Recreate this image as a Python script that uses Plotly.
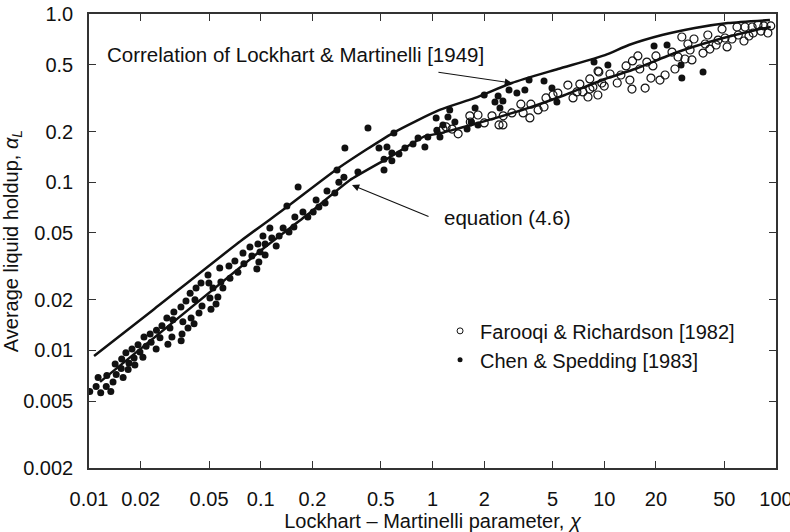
import math
import plotly.graph_objects as go

# ---------------- data ----------------
chen_x = [0.0101, 0.0110, 0.0113, 0.0117, 0.0126, 0.0127, 0.0134, 0.0138, 0.0142, 0.0144,
          0.0154, 0.0155, 0.0158, 0.0164, 0.0169, 0.0171, 0.0178, 0.0183, 0.0185, 0.0193,
          0.0198, 0.0206, 0.0209, 0.0215, 0.0227, 0.0230, 0.0246, 0.0247, 0.0259, 0.0266,
          0.0284, 0.0288, 0.0296, 0.0304, 0.0308, 0.0312, 0.0343, 0.0344, 0.0348, 0.0352,
          0.0367, 0.0377, 0.0393, 0.0388, 0.0409, 0.0414, 0.0420, 0.0437, 0.0449, 0.0455,
          0.0493, 0.0499, 0.0506, 0.0513, 0.0527, 0.0549, 0.0563, 0.0577, 0.0586, 0.0602,
          0.0653, 0.0662, 0.0707, 0.0736, 0.0788, 0.0798, 0.0865, 0.0888, 0.0949, 0.0962,
          0.0975, 0.0990, 0.103, 0.106, 0.106, 0.113, 0.116, 0.123, 0.128, 0.135,
          0.142, 0.146, 0.156, 0.158, 0.165, 0.176, 0.188, 0.202, 0.210, 0.218,
          0.237, 0.243, 0.270, 0.278, 0.285, 0.305, 0.309, 0.368, 0.421, 0.488,
          0.522, 0.522, 0.543, 0.580, 0.580, 0.596, 0.638, 0.691, 0.770, 0.824,
          0.903, 0.939, 1.05, 1.06, 1.105, 1.15, 1.23, 1.26, 1.35, 1.59,
          1.68, 1.77, 1.84, 2.00, 2.31, 2.41, 2.47, 2.57, 2.79, 3.10,
          3.45, 3.65, 4.46, 4.96, 5.30, 8.72, 10.5, 19.5, 23.2, 28.0,
          28.3, 37.6]
chen_y = [0.0057, 0.0061, 0.0069, 0.0056, 0.0061, 0.0071, 0.0057, 0.0065, 0.0083, 0.0072,
          0.0078, 0.0089, 0.0069, 0.0097, 0.0077, 0.0084, 0.0102, 0.0090, 0.0082, 0.0108,
          0.0098, 0.0091, 0.0120, 0.0106, 0.0125, 0.0112, 0.0102, 0.0132, 0.0119, 0.0140,
          0.0156, 0.0109, 0.0136, 0.0120, 0.0152, 0.0169, 0.0181, 0.0114, 0.0125, 0.0148,
          0.0197, 0.0136, 0.0156, 0.0219, 0.0144, 0.0200, 0.0235, 0.0167, 0.0252, 0.0184,
          0.0281, 0.0252, 0.0205, 0.0176, 0.0235, 0.0189, 0.0208, 0.0309, 0.0255, 0.0235,
          0.0318, 0.0269, 0.0340, 0.0292, 0.0379, 0.0327, 0.0412, 0.0364, 0.0305, 0.0429,
          0.0335, 0.0385, 0.0479, 0.0429, 0.0369, 0.0534, 0.0466, 0.0418, 0.0479, 0.0534,
          0.0722, 0.0506, 0.0542, 0.0621, 0.0936, 0.0665, 0.0621, 0.0665, 0.0784, 0.0712,
          0.0752, 0.0887, 0.0862, 0.118, 0.100, 0.107, 0.160, 0.115, 0.210, 0.160,
          0.118, 0.137, 0.162, 0.149, 0.134, 0.196, 0.147, 0.160, 0.169, 0.183,
          0.162, 0.186, 0.241, 0.204, 0.186, 0.219, 0.244, 0.269, 0.228, 0.207,
          0.228, 0.276, 0.219, 0.330, 0.300, 0.325, 0.276, 0.304, 0.353, 0.339,
          0.353, 0.405, 0.400, 0.363, 0.300, 0.518, 0.498, 0.645, 0.654, 0.498,
          0.416, 0.452]

farooqi_x = [1.15, 1.20, 1.30, 1.41, 1.65, 1.66, 1.84, 2.00, 2.22, 2.44,
             2.57, 2.58, 2.90, 3.27, 3.37, 3.69, 3.74, 4.12, 4.46, 4.58,
             5.03, 5.37, 6.14, 6.58, 6.93, 7.21, 7.51, 8.04, 8.24, 8.25,
             8.59, 9.18, 9.30, 9.68, 9.20, 10.0, 10.8, 11.9, 12.5, 13.4,
             14.1, 14.5, 14.6, 15.7, 16.1, 17.3, 17.7, 18.7, 19.2, 20.0,
             21.1, 22.6, 24.8, 25.8, 26.9, 28.3, 29.5, 30.7, 31.6, 32.4,
             33.3, 37.6, 38.7, 40.1, 41.2, 44.8, 46.0, 48.5, 50.5, 51.9,
             55.4, 59.3, 60.3, 65.1, 66.0, 69.6, 72.6, 73.6, 78.5, 81.7,
             85.0, 89.7, 93.2]
farooqi_y = [0.207, 0.213, 0.207, 0.194, 0.248, 0.228, 0.251, 0.225, 0.248, 0.219,
             0.219, 0.248, 0.258, 0.291, 0.258, 0.241, 0.291, 0.269, 0.280, 0.317,
             0.330, 0.339, 0.378, 0.317, 0.344, 0.383, 0.344, 0.321, 0.411, 0.358,
             0.368, 0.330, 0.452, 0.389, 0.458, 0.373, 0.440, 0.389, 0.434, 0.491,
             0.405, 0.358, 0.526, 0.563, 0.471, 0.363, 0.518, 0.416, 0.491, 0.563,
             0.405, 0.434, 0.594, 0.471, 0.555, 0.730, 0.540, 0.663, 0.611, 0.533,
             0.710, 0.586, 0.663, 0.750, 0.619, 0.654, 0.700, 0.814, 0.720, 0.637,
             0.710, 0.837, 0.750, 0.691, 0.837, 0.740, 0.837, 0.771, 0.860, 0.792,
             0.849, 0.771, 0.849]

# Lockhart & Martinelli correlation curve
lm_x = [0.0107, 0.0236, 0.0777, 0.142, 0.289, 0.588, 1.10, 1.77, 2.90, 5.37,
        10.1, 13.9, 21.7, 33.7, 52.5, 92.2]
lm_y = [0.00926, 0.0174, 0.0453, 0.0712, 0.123, 0.196, 0.269, 0.317, 0.389, 0.471,
        0.570, 0.654, 0.750, 0.826, 0.884, 0.921]

# equation (4.6) curve
eq_x = [0.0116, 0.106, 0.186, 0.331, 0.565, 0.903, 1.10, 1.30, 1.68, 3.45,
        5.90, 10.1, 15.1, 25.8, 44.8, 76.3, 93.2]
eq_y = [0.0065, 0.0412, 0.0638, 0.103, 0.141, 0.188, 0.195, 0.204, 0.219, 0.272,
        0.330, 0.411, 0.471, 0.586, 0.700, 0.803, 0.837]

x_ticks = [0.01, 0.02, 0.05, 0.1, 0.2, 0.5, 1, 2, 5, 10, 20, 50, 100]
x_tick_text = ["0.01", "0.02", "0.05", "0.1", "0.2", "0.5", "1", "2", "5", "10", "20", "50", "100"]
y_ticks = [0.002, 0.005, 0.01, 0.02, 0.05, 0.1, 0.2, 0.5, 1.0]
y_tick_text = ["0.002", "0.005", "0.01", "0.02", "0.05", "0.1", "0.2", "0.5", "1.0"]

# arrow targets (points on the two curves)
lm_arrow_pt = (2.90, 0.389)
eq_arrow_pt = (0.34, 0.0962)

FONT = "Liberation Sans, Arial, Helvetica, sans-serif"
INK = "#111111"

fig = go.Figure()

fig.add_trace(go.Scatter(x=lm_x, y=lm_y, mode="lines",
                         line=dict(color=INK, width=2.5, shape="spline", smoothing=0.6),
                         showlegend=False, hoverinfo="skip"))
fig.add_trace(go.Scatter(x=eq_x, y=eq_y, mode="lines",
                         line=dict(color=INK, width=2.5, shape="spline", smoothing=0.4),
                         showlegend=False, hoverinfo="skip"))
fig.add_trace(go.Scatter(x=farooqi_x, y=farooqi_y, mode="markers",
                         marker=dict(symbol="circle-open", size=8, color=INK, line=dict(width=1.2, color=INK)),
                         showlegend=False, name="Farooqi & Richardson [1982]"))
fig.add_trace(go.Scatter(x=chen_x, y=chen_y, mode="markers",
                         marker=dict(symbol="circle", size=7, color=INK),
                         showlegend=False, name="Chen & Spedding [1983]"))

# legend entries with the small legend symbols
fig.add_trace(go.Scatter(x=[None], y=[None], mode="markers", name="Farooqi & Richardson [1982]",
                         marker=dict(symbol="circle-open", size=6, color=INK, line=dict(width=1, color=INK))))
fig.add_trace(go.Scatter(x=[None], y=[None], mode="markers", name="Chen & Spedding [1983]",
                         marker=dict(symbol="circle", size=5, color=INK)))

axis_common = dict(
    showline=True, linecolor="#333333", linewidth=1.5, mirror="ticks",
    ticks="inside", ticklen=7, tickwidth=1.3, tickcolor="#333333",
    showgrid=False, zeroline=False, ticklabeloverflow="allow", automargin=False,
    tickfont=dict(family=FONT, size=20, color=INK),
)

fig.update_xaxes(type="log", range=[-2, 2], tickvals=x_ticks, ticktext=x_tick_text,
                 ticklabelstandoff=12,
                 title=dict(text="Lockhart – Martinelli parameter, <i>χ</i>",
                            font=dict(family=FONT, size=20, color=INK), standoff=16),
                 **axis_common)
fig.update_yaxes(type="log", range=[math.log10(0.002), 0], tickvals=y_ticks, ticktext=y_tick_text,
                 ticklabelstandoff=10,
                 title=dict(text="Average liquid holdup, <i>α</i><sub><i>L</i></sub>",
                            font=dict(family=FONT, size=20, color=INK), standoff=8),
                 **axis_common)

fig.add_annotation(xref="paper", yref="paper", x=0.0233, y=0.9097, xanchor="left", yanchor="middle",
                   text="Correlation of Lockhart & Martinelli [1949]", showarrow=False,
                   font=dict(family=FONT, size=20.5, color=INK))
fig.add_annotation(x=math.log10(lm_arrow_pt[0]), y=math.log10(lm_arrow_pt[1]), text="",
                   showarrow=True, ax=-75, ay=-11, arrowhead=2, arrowsize=1.3, arrowwidth=1.1,
                   arrowcolor=INK)
fig.add_annotation(xref="paper", yref="paper", x=0.5138, y=0.5507, xanchor="left", yanchor="middle",
                   text="equation (4.6)", showarrow=False,
                   font=dict(family=FONT, size=20.5, color=INK))
fig.add_annotation(x=math.log10(eq_arrow_pt[0]), y=math.log10(eq_arrow_pt[1]), text="",
                   showarrow=True, ax=78, ay=32, arrowhead=2, arrowsize=1.3, arrowwidth=1.1,
                   arrowcolor=INK)

fig.update_layout(
    width=790, height=532,
    margin=dict(l=89, r=14, t=14, b=64, autoexpand=False),
    paper_bgcolor="white", plot_bgcolor="white",
    font=dict(family=FONT, size=20, color=INK),
    legend=dict(x=0.511, y=0.345, xanchor="left", yanchor="top",
                bgcolor="rgba(0,0,0,0)", font=dict(family=FONT, size=20, color=INK),
                tracegroupgap=0, itemsizing="trace"),
    showlegend=True,
)

fig.write_html("out.html")
